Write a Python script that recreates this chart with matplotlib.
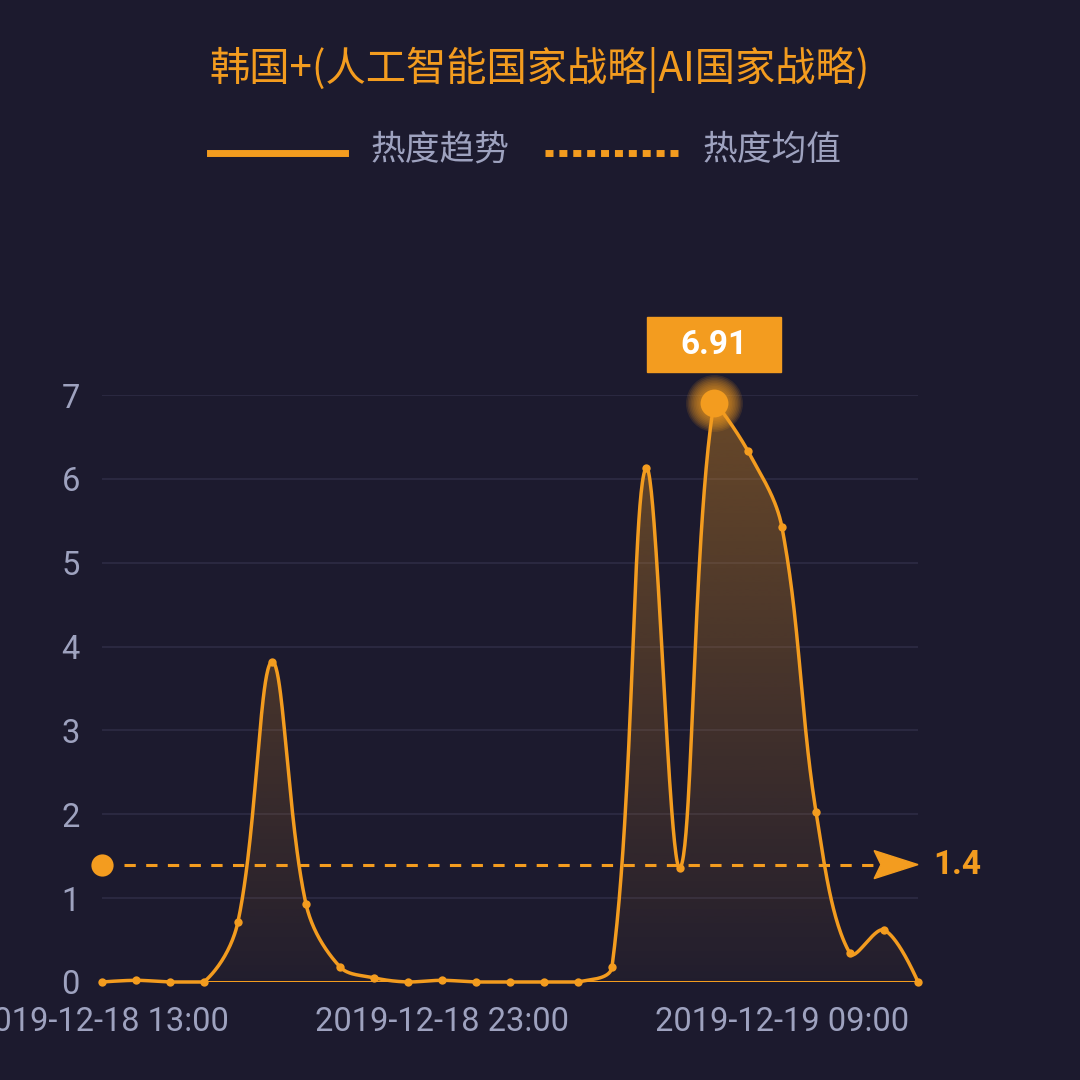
import numpy as np
import matplotlib
matplotlib.use("Agg")
import matplotlib.pyplot as plt
from matplotlib.patches import Rectangle, Polygon
from matplotlib.lines import Line2D

plt.rcParams['font.family'] = ['Roboto', 'Noto Sans CJK SC', 'DejaVu Sans']

title = "韩国+(人工智能国家战略|AI国家战略)"
legend_labels = ["热度趋势", "热度均值"]
hours = ["2019-12-18 13:00", "2019-12-18 14:00", "2019-12-18 15:00", "2019-12-18 16:00",
         "2019-12-18 17:00", "2019-12-18 18:00", "2019-12-18 19:00", "2019-12-18 20:00",
         "2019-12-18 21:00", "2019-12-18 22:00", "2019-12-18 23:00", "2019-12-19 00:00",
         "2019-12-19 01:00", "2019-12-19 02:00", "2019-12-19 03:00", "2019-12-19 04:00",
         "2019-12-19 05:00", "2019-12-19 06:00", "2019-12-19 07:00", "2019-12-19 08:00",
         "2019-12-19 09:00", "2019-12-19 10:00", "2019-12-19 11:00", "2019-12-19 12:00",
         "2019-12-19 13:00"]
values = [0.0, 0.02, 0.0, 0.0, 0.72, 3.82, 0.93, 0.18, 0.05, 0.0, 0.02, 0.0, 0.0,
          0.0, 0.0, 0.18, 6.13, 1.36, 6.91, 6.33, 5.42, 2.03, 0.34, 0.62, 0.0]
mean_value = 1.4
yticks = [0, 1, 2, 3, 4, 5, 6, 7]
xtick_idx = [0, 10, 20]

BG = '#1c1a2e'
ORANGE = '#f39c1f'
GREY = '#9ea2bf'
GRID = '#2e2c44'
CJK = ['Noto Sans CJK SC', 'DejaVu Sans']

W = H = 1080
fig = plt.figure(figsize=(10.8, 10.8), dpi=100, facecolor=BG)
L, R, B, T = 102, 918, 982, 395
ax = fig.add_axes([L / W, 1 - B / H, (R - L) / W, (B - T) / H])
ax.set_facecolor(BG)
n = len(values)
x = np.arange(n, dtype=float)
y = np.array(values, dtype=float)
ax.set_xlim(0, n - 1)
ax.set_ylim(0, 7)

# ECharts-like smooth bezier in pixel space, with bounding-box constraint
sx = (R - L) / (n - 1)
sy = (B - T) / 7.0
px = x * sx
py = y * sy
smooth = 0.35
ymin, ymax = py.min(), py.max()
cps = []
for i in range(n):
    if i == 0 or i == n - 1:
        cps.append((np.array([px[i], py[i]]), np.array([px[i], py[i]])))
        continue
    vx = px[i + 1] - px[i - 1]
    vy = py[i + 1] - py[i - 1]
    d0 = np.hypot(px[i] - px[i - 1], py[i] - py[i - 1])
    d1 = np.hypot(px[i + 1] - px[i], py[i + 1] - py[i])
    r = d1 / (d0 + d1)
    cin = np.array([px[i] - vx * smooth * (1 - r), py[i] - vy * smooth * (1 - r)])
    cout = np.array([px[i] + vx * smooth * r, py[i] + vy * smooth * r])
    cin[1] = np.clip(cin[1], ymin, ymax)
    cout[1] = np.clip(cout[1], ymin, ymax)
    cps.append((cin, cout))
samples = []
for i in range(n - 1):
    p0 = np.array([px[i], py[i]]); p1 = cps[i][1]; p2 = cps[i + 1][0]; p3 = np.array([px[i + 1], py[i + 1]])
    t = np.linspace(0, 1, 50)[:, None]
    seg = (1 - t) ** 3 * p0 + 3 * (1 - t) ** 2 * t * p1 + 3 * (1 - t) * t ** 2 * p2 + t ** 3 * p3
    samples.append(seg if i == 0 else seg[1:])
samples = np.vstack(samples)
cx = samples[:, 0] / sx
cy = samples[:, 1] / sy

# grid
for v in yticks[1:]:
    ax.axhline(v, color=GRID, lw=1.2, zorder=1)

# gradient fill
grad = np.linspace(0.03, 0.36, 256)[:, None]
rgba = np.zeros((256, 1, 4))
rgba[..., 0] = 0xf3 / 255; rgba[..., 1] = 0x9c / 255; rgba[..., 2] = 0x1f / 255
rgba[..., 3] = grad
im = ax.imshow(rgba, extent=[0, n - 1, 0, 7], origin='lower', aspect='auto', zorder=2,
               interpolation='bilinear')
poly_pts = np.vstack([np.column_stack([cx, cy]), [[n - 1, 0], [0, 0]]])
clip = Polygon(poly_pts, closed=True, transform=ax.transData, facecolor='none', edgecolor='none')
ax.add_patch(clip)
im.set_clip_path(clip)

ax.plot(cx, cy, color=ORANGE, lw=2.5, zorder=4, clip_on=False, solid_capstyle='round')
ax.plot(x, y, 'o', color=ORANGE, ms=6, mew=0, zorder=5, clip_on=False)

# axis line
ax.axhline(0, color=ORANGE, lw=2.2, zorder=3)

# mean line
ax.plot([0.65, n - 2.25], [mean_value, mean_value], color=ORANGE, lw=2.2,
        dashes=(3.7, 3.4), zorder=6, clip_on=False)
ax.plot([0], [mean_value], 'o', color=ORANGE, ms=16, mew=0, zorder=7, clip_on=False)
arrow = Polygon([[n - 2.29, mean_value + 0.167], [n - 1, mean_value], [n - 2.29, mean_value - 0.167],
                 [n - 2.09, mean_value]], closed=True, color=ORANGE, zorder=7, clip_on=False)
ax.add_patch(arrow)
ax.text(n - 1 + 0.44, mean_value, f"{mean_value}", color=ORANGE, fontsize=24, fontweight='bold',
        va='center', ha='left', zorder=7, clip_on=False)

# peak with glow
imax = int(np.argmax(y))
for rr in np.linspace(41, 21, 10):
    ax.plot([imax], [y[imax]], 'o', color=ORANGE, ms=rr, alpha=0.12, mew=0, zorder=8, clip_on=False)
ax.plot([imax], [y[imax]], 'o', color=ORANGE, ms=20, mew=0, zorder=9, clip_on=False)
bw, bh = 134 / sx, 55 / sy
by = (982 - 372) / sy
ax.add_patch(Rectangle((imax - bw / 2, by), bw, bh, color=ORANGE, zorder=10, clip_on=False))
ax.text(imax, by + bh / 2, f"{y[imax]:.2f}", color='white', fontsize=24, fontweight='bold',
        ha='center', va='center', zorder=11, clip_on=False)

# ticks
ax.set_yticks(yticks)
ax.set_yticklabels([str(v) for v in yticks])
ax.set_xticks(xtick_idx)
ax.set_xticklabels([hours[i] for i in xtick_idx])
ax.tick_params(axis='y', length=0, pad=16, labelsize=23.5, labelcolor=GREY)
ax.tick_params(axis='x', length=0, pad=17, labelsize=23.5, labelcolor=GREY)
for s in ax.spines.values():
    s.set_visible(False)

# title
fig.text(0.5, 1 - 70 / H, title, color=ORANGE, fontsize=29, ha='center', va='center', family=CJK)

# legend
fig.add_artist(Line2D([210 / W, 345 / W], [1 - 153 / H] * 2, color=ORANGE, lw=5))
fig.text(370 / W, 1 - 150 / H, legend_labels[0], color=GREY, fontsize=25, ha='left', va='center',
         family=CJK)
fig.add_artist(Line2D([545 / W, 680 / W], [1 - 153 / H] * 2, color=ORANGE, lw=5,
                      dashes=(1.15, 0.85)))
fig.text(702 / W, 1 - 150 / H, legend_labels[1], color=GREY, fontsize=25, ha='left', va='center',
         family=CJK)

fig.savefig("out.png", dpi=100, facecolor=BG)
